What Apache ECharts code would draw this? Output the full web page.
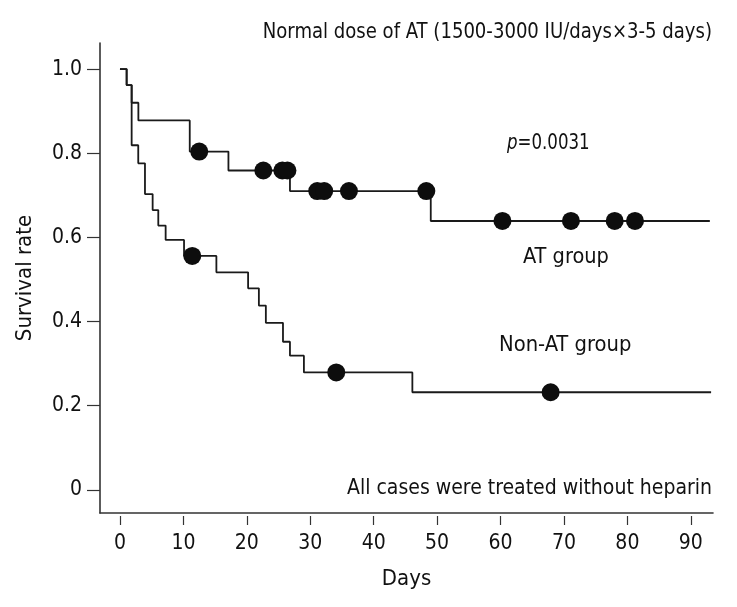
<!DOCTYPE html>
<html>
<head>
<meta charset="utf-8">
<script src="https://cdn.jsdelivr.net/npm/echarts@6/dist/echarts.min.js"></script>
<style>
html,body{margin:0;padding:0;background:#fff;}
#chart{width:737px;height:607px;}
</style>
</head>
<body>
<div id="chart"></div>
<script>
// ---- data ----
var atTimes = [0, 1.05, 1.84, 2.9, 11.0, 17.1, 26.8, 49.0, 93.0];
var atSurv  = [1.0, 0.962, 0.920, 0.878, 0.804, 0.759, 0.710, 0.639, 0.639];
var atCensorDays = [12.5, 22.6, 25.6, 26.4, 31.1, 32.2, 36.1, 48.3, 60.3, 71.1, 78.0, 81.2];
var atCensorSurv = [0.804, 0.759, 0.759, 0.759, 0.710, 0.710, 0.710, 0.710, 0.639, 0.639, 0.639, 0.639];

var nonTimes = [0, 1.05, 1.84, 2.88, 3.94, 5.15, 6.04, 7.2, 10.1, 15.2, 20.2, 21.9, 23.0, 25.7, 26.8, 29.0, 46.1, 93.2];
var nonSurv  = [1.0, 0.962, 0.819, 0.776, 0.703, 0.665, 0.628, 0.594, 0.556, 0.517, 0.479, 0.438, 0.397, 0.352, 0.319, 0.279, 0.232, 0.232];
var nonCensorDays = [11.4, 34.1, 67.9];
var nonCensorSurv = [0.556, 0.279, 0.232];

var xTicks = [0, 10, 20, 30, 40, 50, 60, 70, 80, 90];
var yTicks = [0, 0.2, 0.4, 0.6, 0.8, 1.0];

var titleText = 'Normal dose of AT (1500-3000 IU/days\u00d73-5 days)';
var noteText = 'All cases were treated without heparin';
var pText = '{i|p}=0.0031';
var atLabel = 'AT group';
var nonLabel = 'Non-AT group';

function zip(a, b) { return a.map(function (v, i) { return [v, b[i]]; }); }

var FONT = '"Liberation Sans Narrow", "DejaVu Sans Condensed", "Liberation Sans", sans-serif';
var FS = 22;
var AFS = 21;
var INK = '#111';
var AX = '#333';

function txt(str, x, y, align, sx, extra) {
  var st = {text: str, fill: INK, font: FS + 'px ' + FONT, align: align, verticalAlign: 'middle'};
  if (extra) { for (var k in extra) st[k] = extra[k]; }
  return {type: 'text', x: x, y: y, scaleX: sx, scaleY: 1, style: st, z: 10};
}

var chart = echarts.init(document.getElementById('chart'), null, {renderer: 'canvas'});
chart.setOption({
  animation: false,
  backgroundColor: '#fff',
  textStyle: {fontFamily: FONT},
  grid: {left: 100, right: 24, top: 43, bottom: 94, containLabel: false},
  xAxis: [
    {
      type: 'value', min: -3.15, max: 93.5, gridIndex: 0,
      axisLine: {show: true, onZero: false, lineStyle: {color: AX, width: 1.6}},
      axisTick: {show: false}, axisLabel: {show: false}, splitLine: {show: false}
    },
    {
      type: 'value', min: -3.15, max: 93.5, gridIndex: 0, position: 'bottom', offset: 3,
      axisLine: {show: false, onZero: false},
      axisTick: {show: true, length: 9, customValues: xTicks, lineStyle: {color: AX, width: 1.2}},
      axisLabel: {show: true, customValues: xTicks, margin: 17, color: INK, fontSize: AFS, fontFamily: FONT},
      splitLine: {show: false},
      name: 'Days', nameLocation: 'middle', nameGap: 52,
      nameTextStyle: {color: INK, fontSize: FS, fontFamily: FONT}
    }
  ],
  yAxis: {
    type: 'value', min: -0.055, max: 1.062,
    axisLine: {show: true, onZero: false, lineStyle: {color: AX, width: 1.6}},
    axisTick: {show: true, length: 13, customValues: yTicks, lineStyle: {color: AX, width: 1.2}},
    axisLabel: {
      show: true, customValues: yTicks, margin: 18, color: INK, fontSize: AFS, fontFamily: FONT,
      formatter: function (v) { return v === 0 ? '0' : v.toFixed(1); }
    },
    splitLine: {show: false},
    name: 'Survival rate', nameLocation: 'middle', nameGap: 64,
    nameTextStyle: {color: INK, fontSize: FS, fontFamily: FONT}
  },
  series: [
    {
      type: 'line', step: 'end', xAxisIndex: 0, data: zip(nonTimes, nonSurv),
      showSymbol: false, symbol: 'none', lineStyle: {color: '#1a1a1a', width: 1.8}, z: 2
    },
    {
      type: 'line', step: 'end', xAxisIndex: 0, data: zip(atTimes, atSurv),
      showSymbol: false, symbol: 'none', lineStyle: {color: '#1a1a1a', width: 1.8}, z: 2
    },
    {
      type: 'scatter', xAxisIndex: 0, data: zip(atCensorDays, atCensorSurv),
      symbol: 'circle', symbolSize: 18, itemStyle: {color: '#0d0d0d', opacity: 1}, z: 3
    },
    {
      type: 'scatter', xAxisIndex: 0, data: zip(nonCensorDays, nonCensorSurv),
      symbol: 'circle', symbolSize: 18, itemStyle: {color: '#0d0d0d', opacity: 1}, z: 3
    }
  ],
  graphic: [
    txt(titleText, 712, 32, 'right', 0.913),
    txt(noteText, 712, 488, 'right', 0.955),
    txt(pText, 507, 143, 'left', 0.84, {rich: {i: {fontStyle: 'italic', fontSize: FS, fontFamily: FONT, fill: INK}}}),
    txt(atLabel, 523, 257, 'left', 0.98),
    txt(nonLabel, 499, 345, 'left', 0.99)
  ]
});
</script>
</body>
</html>
